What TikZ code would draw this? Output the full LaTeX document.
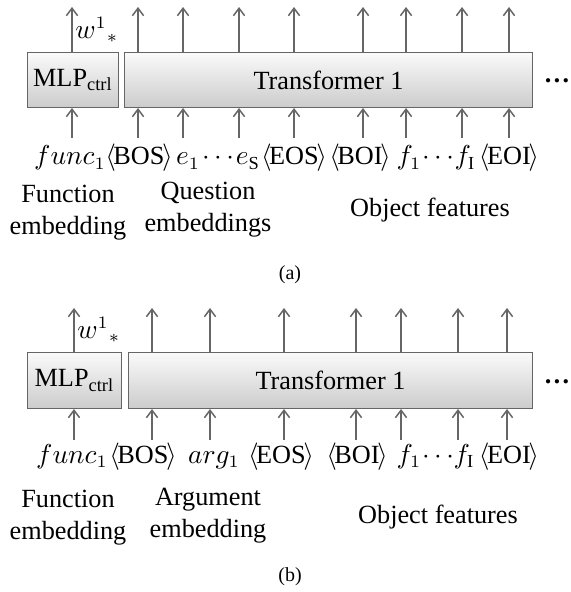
\documentclass[tikz,border=0pt]{standalone}
\usepackage{fontspec}
\setmainfont{Liberation Serif}
\usetikzlibrary{positioning,arrows.meta}

\newcommand{\spc}[1]{$\langle$\kern-1pt#1\kern-1pt$\rangle$}

\tikzset{
  blk/.style={draw=black!60, top color=gray!4, bottom color=gray!40, anchor=north west, inner sep=0pt},
  arr/.style={-{Straight Barb[length=3pt,width=4.5pt]}, draw=black!60, line width=0.6pt},
  tok/.style={anchor=base, inner sep=0pt},
  lbl/.style={align=center, inner sep=0pt},
  more/.style={anchor=base, inner sep=0pt, font=\fontsize{10.5}{12}\bfseries},
  subcap/.style={font=\fontsize{8}{10}\selectfont},
}

\begin{document}
\begin{tikzpicture}[x=0.4pt, y=-0.4pt, font=\fontsize{10.5}{12.8}\selectfont]
\useasboundingbox (0,0) rectangle (571,592);

% (a)
\node[blk, minimum width=91*0.4pt, minimum height=55*0.4pt] (a-mlp) at (27,52) {MLP\textsubscript{ctrl}};
\node[blk, minimum width=408*0.4pt, minimum height=55*0.4pt] (a-tf) at (124,52) {Transformer 1};
\node[more] (a-more) at (557,83) {\ldots};

\node[tok] (a-func) at (70,165) {$func_1$};
\node[tok] (a-bos) at (139,165) {\spc{BOS}};
\node[tok] (a-e1) at (188,165) {$e_1$};
\node[tok] (a-dots) at (218,165) {$\cdots$};
\node[tok] (a-eS) at (248,165) {$e_{\mathrm{S}}$};
\node[tok] (a-eos) at (294,165) {\spc{EOS}};
\node[tok] (a-boi) at (360,165) {\spc{BOI}};
\node[tok] (a-f1) at (409,165) {$f_1$};
\node[tok] (a-fdots) at (438,165) {$\cdots$};
\node[tok] (a-fI) at (465,165) {$f_{\mathrm{I}}$};
\node[tok] (a-eoi) at (509,165) {\spc{EOI}};

\coordinate (a-func-in) at (72,138);
\draw[arr] (a-func-in) -- (a-func-in |- a-mlp.south);
\draw[arr] (a-func-in |- a-mlp.north) -- ++(0,-45) node[midway, right, inner sep=1pt] {$w^{1}{}_{*}$};
\foreach \n/\x in {bos/138, e1/183, eS/239, eos/294, boi/363, f1/406, fI/462, eoi/509}{
  \coordinate (a-\n-in) at (\x,138);
  \draw[arr] (a-\n-in) -- (a-\n-in |- a-tf.south);
  \draw[arr] (a-\n-in |- a-tf.north) -- ++(0,-45);
}

\node[lbl] (a-fe) at (68,213) {Function\\embedding};
\node[lbl] (a-qe) at (208,210) {Question\\embeddings};
\node[lbl] (a-of) at (430,210) {Object features};
\node[subcap] (a-cap) at (290,275) {(a)};

% (b)
\node[blk, minimum width=94*0.4pt, minimum height=56*0.4pt] (b-mlp) at (27,352) {MLP\textsubscript{ctrl}};
\node[blk, minimum width=404*0.4pt, minimum height=56*0.4pt] (b-tf) at (128,352) {Transformer 1};
\node[more] (b-more) at (557,383) {\ldots};

\node[tok] (b-func) at (72,463) {$func_1$};
\node[tok] (b-bos) at (143,463) {\spc{BOS}};
\node[tok] (b-arg) at (214,463) {$arg_1$};
\node[tok] (b-eos) at (281,463) {\spc{EOS}};
\node[tok] (b-boi) at (357,463) {\spc{BOI}};
\node[tok] (b-f1) at (409,463) {$f_1$};
\node[tok] (b-fdots) at (438,463) {$\cdots$};
\node[tok] (b-fI) at (464,463) {$f_{\mathrm{I}}$};
\node[tok] (b-eoi) at (509,463) {\spc{EOI}};

\coordinate (b-func-in) at (74,440);
\draw[arr] (b-func-in) -- (b-func-in |- b-mlp.south);
\draw[arr] (b-func-in |- b-mlp.north) -- ++(0,-44) node[midway, right, inner sep=1pt] {$w^{1}{}_{*}$};
\foreach \n/\x in {bos/152, arg/210, eos/284, boi/356, f1/401, fI/458, eoi/507}{
  \coordinate (b-\n-in) at (\x,440);
  \draw[arr] (b-\n-in) -- (b-\n-in |- b-tf.south);
  \draw[arr] (b-\n-in |- b-tf.north) -- ++(0,-44);
}

\node[lbl] (b-fe) at (68,518) {Function\\embedding};
\node[lbl] (b-ae) at (208,516) {Argument\\embedding};
\node[lbl] (b-of) at (438,517) {Object features};
\node[subcap] (b-cap) at (290,577) {(b)};

\end{tikzpicture}
\end{document}
